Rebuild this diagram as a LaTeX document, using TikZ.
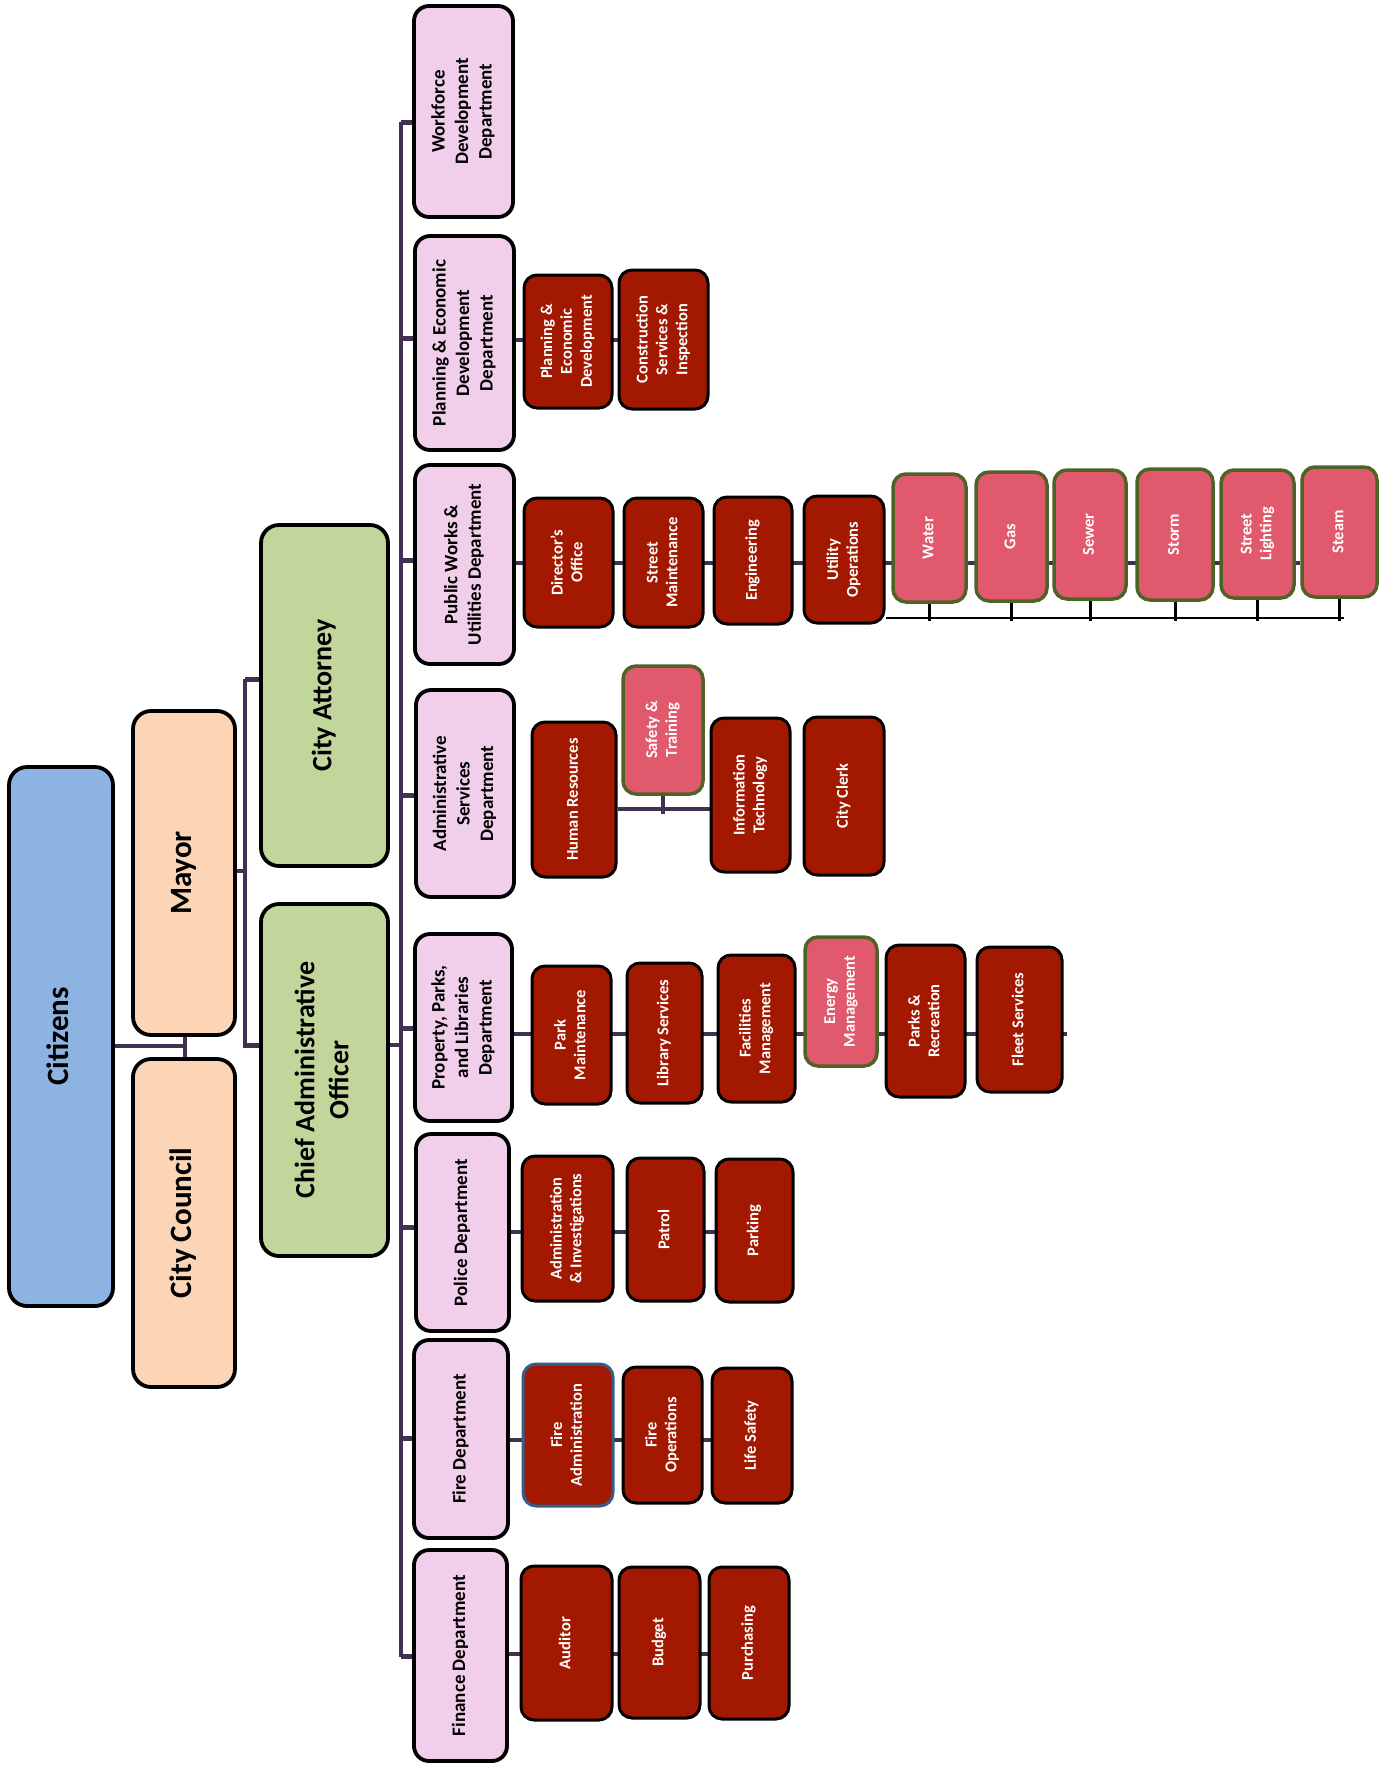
\documentclass[tikz,border=0pt]{standalone}
\usepackage{fontspec}
\setmainfont{Carlito}
\pgfdeclarelayer{bg}
\pgfsetlayers{bg,main}
\definecolor{citblue}{RGB}{141,179,226}
\definecolor{peach}{RGB}{251,213,181}
\definecolor{sage}{RGB}{194,214,155}
\definecolor{lilac}{RGB}{241,206,234}
\definecolor{darkred}{RGB}{163,24,0}
\definecolor{rosebox}{RGB}{224,89,108}
\definecolor{olivebd}{RGB}{79,98,40}
\definecolor{linepurple}{RGB}{64,49,82}
\definecolor{steelbd}{RGB}{56,93,138}
\newcommand{\rt}[1]{\rotatebox{90}{\begin{tabular}{@{}c@{}}#1\end{tabular}}}
\tikzset{
  base/.style={draw=black, rounded corners=15pt, inner sep=0pt, align=center},
  topbox/.style={base, line width=3.8pt, rounded corners=18pt, font=\fontsize{31}{37}\selectfont\bfseries},
  greenbox/.style={base, line width=3.8pt, rounded corners=18pt, fill=sage, font=\fontsize{28}{34}\selectfont\bfseries},
  deptbox/.style={base, line width=3.8pt, fill=lilac, font=\fontsize{19}{23.5}\selectfont\bfseries},
  redbox/.style={base, line width=3pt, rounded corners=13pt, fill=darkred, text=white, font=\fontsize{16.5}{19.8}\selectfont\bfseries},
  rosebx/.style={redbox, fill=rosebox, draw=olivebd, line width=3.5pt},
  conn/.style={draw=linepurple, line width=4pt},
  tick/.style={draw=linepurple, line width=5pt},
  ubar/.style={draw=black, line width=2.5pt}
}
\begin{document}
\begin{tikzpicture}[x=1pt,y=-1pt]
\useasboundingbox (0,0) rectangle (1387,1765);
% top level
\node[topbox, fill=citblue, minimum width=104pt, minimum height=539pt] (cit) at (61,1036.5) {\rt{Citizens}};
\node[topbox, fill=peach, minimum width=102pt, minimum height=324pt] (mayor) at (184,873) {\rt{Mayor}};
\node[topbox, fill=peach, minimum width=102pt, minimum height=328pt] (council) at (184,1223) {\rt{City Council}};
\node[greenbox, minimum width=127pt, minimum height=341pt] (ca) at (324.5,695.5) {\rt{City Attorney}};
\node[greenbox, minimum width=127pt, minimum height=352pt] (cao) at (324.5,1080) {\rt{Chief Administrative\\Officer}};
% departments
\node[deptbox, minimum width=99pt, minimum height=211pt] (wf) at (463.5,111.5) {\rt{Workforce\\Development\\Department}};
\node[deptbox, minimum width=99pt, minimum height=214pt] (plan) at (464.5,343) {\rt{Planning \& Economic\\Development\\Department}};
\node[deptbox, minimum width=99pt, minimum height=199pt] (pw) at (464.5,564.5) {\rt{Public Works \&\\Utilities Department}};
\node[deptbox, minimum width=98pt, minimum height=207pt] (adm) at (465,793.5) {\rt{Administrative\\Services\\Department}};
\node[deptbox, minimum width=97pt, minimum height=187pt] (ppl) at (463.5,1027.5) {\rt{Property, Parks,\\and Libraries\\Department}};
\node[deptbox, minimum width=93pt, minimum height=197pt] (pol) at (462.5,1232.5) {\rt{Police Department}};
\node[deptbox, minimum width=94pt, minimum height=198pt] (fire) at (461,1439) {\rt{Fire Department}};
\node[deptbox, minimum width=93pt, minimum height=211pt] (fin) at (460.5,1655.5) {\rt{Finance Department}};
% planning
\node[redbox, minimum width=88pt, minimum height=133pt] (ped) at (568,341.5) {\rt{Planning \&\\Economic\\Development}};
\node[redbox, minimum width=89pt, minimum height=139pt] (cons) at (663.5,339.5) {\rt{Construction\\Services \&\\Inspection}};
% public works
\node[redbox, minimum width=89pt, minimum height=129pt] (dir) at (568.5,562.5) {\rt{Director’s\\Office}};
\node[redbox, minimum width=79pt, minimum height=129pt] (stm) at (663.5,562.5) {\rt{Street\\Maintenance}};
\node[redbox, minimum width=78pt, minimum height=127pt] (eng) at (753,560.5) {\rt{Engineering}};
\node[redbox, minimum width=80pt, minimum height=127pt] (uo) at (844,559.5) {\rt{Utility\\Operations}};
\node[rosebx, minimum width=73pt, minimum height=128pt] (water) at (929.5,538) {\rt{Water}};
\node[rosebx, minimum width=71pt, minimum height=129pt] (gas) at (1011.5,536.5) {\rt{Gas}};
\node[rosebx, minimum width=72pt, minimum height=129pt] (sewer) at (1090,534.5) {\rt{Sewer}};
\node[rosebx, minimum width=76pt, minimum height=131pt] (storm) at (1175,534.5) {\rt{Storm}};
\node[rosebx, minimum width=73pt, minimum height=128pt] (light) at (1257.5,534) {\rt{Street\\Lighting}};
\node[rosebx, minimum width=75pt, minimum height=130pt] (steam) at (1339.5,532) {\rt{Steam}};
% administrative
\node[redbox, minimum width=84pt, minimum height=155pt] (hr) at (574,799.5) {\rt{Human Resources}};
\node[rosebx, minimum width=80pt, minimum height=128pt] (safe) at (663,730) {\rt{Safety \&\\Training}};
\node[redbox, minimum width=79pt, minimum height=154pt] (it) at (750.5,795) {\rt{Information\\Technology}};
\node[redbox, minimum width=80pt, minimum height=158pt] (clerk) at (844,796) {\rt{City Clerk}};
% property
\node[redbox, minimum width=79pt, minimum height=138pt] (park) at (571.5,1035) {\rt{Park\\Maintenance}};
\node[redbox, minimum width=75pt, minimum height=140pt] (lib) at (664.5,1033) {\rt{Library Services}};
\node[redbox, minimum width=77pt, minimum height=147pt] (fac) at (756.5,1028.5) {\rt{Facilities\\Management}};
\node[rosebx, minimum width=72pt, minimum height=129pt] (energy) at (841,1001.5) {\rt{Energy\\Management}};
\node[redbox, minimum width=79pt, minimum height=152pt] (rec) at (925.5,1021) {\rt{Parks \&\\Recreation}};
\node[redbox, minimum width=85pt, minimum height=145pt] (fleet) at (1019.5,1019.5) {\rt{Fleet Services}};
% police
\node[redbox, minimum width=91pt, minimum height=145pt] (ai) at (567.5,1228.5) {\rt{Administration\\\& Investigations}};
\node[redbox, minimum width=77pt, minimum height=143pt] (patrol) at (665.5,1229.5) {\rt{Patrol}};
\node[redbox, minimum width=77pt, minimum height=143pt] (parking) at (754.5,1230.5) {\rt{Parking}};
% fire
\node[redbox, draw=steelbd, minimum width=90pt, minimum height=142pt] (fadm) at (568,1435) {\rt{Fire\\Administration}};
\node[redbox, minimum width=79pt, minimum height=136pt] (fops) at (662.5,1435) {\rt{Fire\\Operations}};
\node[redbox, minimum width=80pt, minimum height=135pt] (life) at (752,1435.5) {\rt{Life Safety}};
% finance
\node[redbox, minimum width=91pt, minimum height=154pt] (aud) at (566.5,1643) {\rt{Auditor}};
\node[redbox, minimum width=81pt, minimum height=151pt] (bud) at (659.5,1642.5) {\rt{Budget}};
\node[redbox, minimum width=80pt, minimum height=152pt] (pur) at (749,1643) {\rt{Purchasing}};

% connectors
\coordinate (mcj) at (185,1046);
\coordinate (mv) at (245,0);
\coordinate (trunk) at (401,0);
\coordinate (ub) at (0,618);
\coordinate (ubt) at (0,621);
\begin{pgfonlayer}{bg}
\draw[conn] (cit.east |- mcj) -- (mcj);
\draw[conn] (mayor.south -| mcj) -- (council.north -| mcj);
\draw[conn] (mayor.east |- 0,871) -- (mv |- 0,871);
\draw[conn] (mv |- 0,679) -- (mv |- 0,1045);
\draw[tick] (ca.west |- 0,679) -- (mv |- 0,679);
\draw[tick] (cao.west |- 0,1045) -- ([xshift=-2pt]mv |- 0,1045);
\draw[conn] (cao.east |- 0,1045) -- (trunk |- 0,1045);
\draw[conn] (trunk |- wf.west) ++(0,10) -- (trunk |- 0,1657);
\draw[tick] (trunk |- 0,122) -- (wf.west |- 0,122);
\draw[tick] (trunk |- 0,338) -- (plan.west |- 0,338);
\draw[tick] (trunk |- 0,560) -- (pw.west |- 0,560);
\draw[tick] (trunk |- 0,795) -- (adm.west |- 0,795);
\draw[tick] (trunk |- 0,1028) -- (ppl.west |- 0,1028);
\draw[tick] (trunk |- 0,1227) -- (pol.west |- 0,1227);
\draw[tick] (trunk |- 0,1438) -- (fire.west |- 0,1438);
\draw[tick] (trunk |- 0,1656) -- (fin.west |- 0,1656);
% rows
\draw[conn] (plan.east |- 0,340) -- (cons.west |- 0,340);
\draw[conn] (pw.east |- 0,563) -- (steam.west |- 0,563);
\draw[conn] (hr.east |- 0,809) -- (it.west |- 0,809);
\draw[conn] (safe.south) -- (safe.south |- 0,814);
\draw[conn] (ppl.east |- 0,1034) -- ([xshift=3pt]fleet.east |- 0,1034);
\draw[conn] (pol.east |- 0,1232) -- (parking.west |- 0,1232);
\draw[conn] (fire.east |- 0,1440) -- (life.west |- 0,1440);
\draw[conn] (fin.east |- 0,1654) -- (pur.west |- 0,1654);
% utility bar
\draw[ubar] (uo.east |- ub) -- ([xshift=4pt]steam.south |- ub);
\foreach \n in {water,gas,sewer,storm,light,steam}{
  \draw[ubar, line width=3pt] (\n.south) -- (\n.south |- ubt);
}
\end{pgfonlayer}
\end{tikzpicture}
\end{document}
